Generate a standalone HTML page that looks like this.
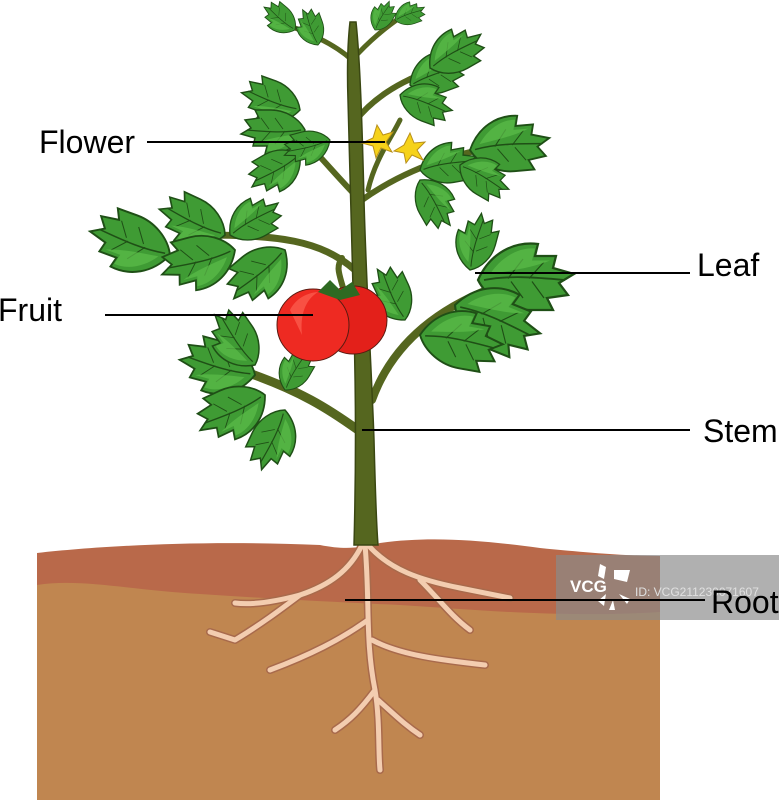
<!DOCTYPE html>
<html><head><meta charset="utf-8"><style>
html,body{margin:0;padding:0;background:#fff;width:779px;height:800px;overflow:hidden}
text{font-family:"Liberation Sans",sans-serif}
</style></head><body>
<svg width="779" height="800" viewBox="0 0 779 800" xmlns="http://www.w3.org/2000/svg">
<defs>
<g id="lf">
<path d="M0,0 C8,-18 24,-26 40,-24 L38,-16 L52,-16 L50,-8 L64,-4 L54,2 L60,10 L46,12 L50,20 L34,20 C20,20 6,12 0,0 Z" fill="#3f9b34" stroke="#1f4f16" stroke-width="1.5"/>
<path d="M4,0 C20,-3 36,-2 58,0" stroke="#1f4f16" stroke-width="1.2" fill="none"/>
<path d="M20,-1 L30,-14 M34,-1 L44,-12 M22,1 L30,12 M36,1 L44,12" stroke="#1f4f16" stroke-width=".8" fill="none"/>
<path d="M8,-4 C16,-16 28,-22 38,-21 L36,-13 L48,-13 C36,-8 20,-6 8,-4 Z" fill="#5cbd4a" opacity=".7"/>
</g>
</defs>

<!-- soil -->
<path d="M37,553 C100,546 200,540 320,545 C345,550 360,548 380,543 C430,536 480,540 540,548 C590,553 630,556 660,556 L660,800 L37,800 Z" fill="#b9694a"/>
<path d="M37,585 C80,578 130,590 200,594 C260,598 330,602 400,605 C480,610 560,618 660,612 L660,800 L37,800 Z" fill="#c08650"/>

<!-- roots -->
<g fill="none" stroke-linecap="round" stroke-linejoin="round">
<g stroke="#a86a4c" stroke-width="8">
<path d="M362,545 C350,570 330,585 300,595 C270,603 250,605 235,603"/>
<path d="M300,595 C280,610 260,625 235,640 L210,632"/>
<path d="M368,545 C390,570 420,580 460,588 L510,598"/>
<path d="M420,580 C440,600 450,615 470,630"/>
<path d="M365,545 C370,600 365,640 375,690 C380,720 378,750 380,770"/>
<path d="M368,620 C340,640 310,655 270,670"/>
<path d="M372,640 C400,655 440,660 485,665"/>
<path d="M375,690 C360,710 350,720 335,730"/>
<path d="M378,700 C395,715 405,725 420,735"/>
</g>
<g stroke="#f3cdb0" stroke-width="5">
<path d="M362,545 C350,570 330,585 300,595 C270,603 250,605 235,603"/>
<path d="M300,595 C280,610 260,625 235,640 L210,632"/>
<path d="M368,545 C390,570 420,580 460,588 L510,598"/>
<path d="M420,580 C440,600 450,615 470,630"/>
<path d="M365,545 C370,600 365,640 375,690 C380,720 378,750 380,770"/>
<path d="M368,620 C340,640 310,655 270,670"/>
<path d="M372,640 C400,655 440,660 485,665"/>
<path d="M375,690 C360,710 350,720 335,730"/>
<path d="M378,700 C395,715 405,725 420,735"/>
</g>
</g>

<!-- branches -->
<g fill="none" stroke="#55661f" stroke-linecap="round">
<path d="M358,430 C330,410 300,390 240,370" stroke-width="9"/>
<path d="M355,270 C320,240 280,235 200,235" stroke-width="7"/>
<path d="M372,400 C390,350 430,310 500,285" stroke-width="8"/>
<path d="M360,200 C330,170 300,130 260,100" stroke-width="6"/>
<path d="M362,200 C390,180 430,160 480,150" stroke-width="6"/>
<path d="M356,120 C380,90 420,70 470,60" stroke-width="6"/>
<path d="M352,60 C330,40 300,30 270,18" stroke-width="5"/>
<path d="M352,60 C370,40 385,28 405,14" stroke-width="5"/>
<path d="M368,190 C375,160 390,140 400,120" stroke-width="5"/>
<path d="M345,295 C340,275 335,268 342,258" stroke-width="6"/>
</g>
<!-- main stem -->
<path d="M354,545 C356,470 356,400 354,330 C352,250 350,160 348,100 C347,70 348,40 350,22 L356,22 C360,60 362,120 364,200 C366,280 372,380 374,440 C375,480 376,520 378,545 Z" fill="#55661f" stroke="#3a4712" stroke-width="1.5"/>

<!-- leaves -->
<g>
<use href="#lf" transform="translate(300,110) rotate(200) scale(.95)"/>
<use href="#lf" transform="translate(305,130) rotate(180) scale(1)"/>
<use href="#lf" transform="translate(300,155) rotate(150) scale(.9)"/>
<use href="#lf" transform="translate(330,140) rotate(165) scale(.75)"/>
<use href="#lf" transform="translate(410,85) rotate(-20) scale(.9)"/>
<use href="#lf" transform="translate(400,95) rotate(20) scale(.85)"/>
<use href="#lf" transform="translate(430,68) rotate(-30) scale(.95)"/>
<use href="#lf" transform="translate(420,170) rotate(-10) scale(.9)"/>
<use href="#lf" transform="translate(470,150) rotate(-5) scale(1.25)"/>
<use href="#lf" transform="translate(420,180) rotate(60) scale(.85)"/>
<use href="#lf" transform="translate(460,165) rotate(30) scale(.85)"/>
<use href="#lf" transform="translate(225,235) rotate(205) scale(1.1)"/>
<use href="#lf" transform="translate(170,255) rotate(200) scale(1.3)"/>
<use href="#lf" transform="translate(235,250) rotate(165) scale(1.2)"/>
<use href="#lf" transform="translate(285,250) rotate(140) scale(1.1)"/>
<use href="#lf" transform="translate(230,235) rotate(-30) scale(.9)"/>
<use href="#lf" transform="translate(470,270) rotate(-75) scale(.9)"/>
<use href="#lf" transform="translate(478,280) rotate(0) scale(1.5)"/>
<use href="#lf" transform="translate(455,305) rotate(22) scale(1.4)"/>
<use href="#lf" transform="translate(420,335) rotate(10) scale(1.3)"/>
<use href="#lf" transform="translate(405,320) rotate(-115) scale(.9)"/>
<use href="#lf" transform="translate(255,375) rotate(195) scale(1.2)"/>
<use href="#lf" transform="translate(255,365) rotate(235) scale(1)"/>
<use href="#lf" transform="translate(265,395) rotate(155) scale(1.15)"/>
<use href="#lf" transform="translate(285,390) rotate(-60) scale(.7)"/>
<use href="#lf" transform="translate(285,410) rotate(115) scale(1)"/>
<use href="#lf" transform="translate(295,30) rotate(220) scale(.6)"/>
<use href="#lf" transform="translate(318,45) rotate(250) scale(.6)"/>
<use href="#lf" transform="translate(375,30) rotate(-60) scale(.5)"/>
<use href="#lf" transform="translate(395,20) rotate(-20) scale(.5)"/>
</g>

<!-- tomatoes -->
<circle cx="353" cy="320" r="34" fill="#e3201a" stroke="#5a1a10" stroke-width="1"/>
<circle cx="313" cy="325" r="36" fill="#ee2a22" stroke="#5a1a10" stroke-width="1"/>
<path d="M290,310 C295,300 305,293 318,292 C305,300 300,315 302,335 Z" fill="#ff6a5a" opacity=".6"/>
<path d="M318,292 L330,280 L340,290 L352,282 L360,295 L340,300 Z" fill="#2e6a22"/>

<!-- flowers -->
<g fill="#f6d21a" stroke="#b8901a" stroke-width="1">
<path d="M377,125 L383,135 L393,132 L386,142 L392,152 L381,148 L376,158 L373,146 L362,143 L373,138 Z"/>
<path d="M410,133 L414,143 L425,142 L417,150 L423,160 L412,155 L406,163 L404,153 L394,151 L404,145 Z"/>
</g>

<!-- watermark -->
<rect x="556" y="555" width="223" height="65" fill="#8a8a8a" opacity=".68"/>
<text x="570" y="592" font-size="17" font-weight="bold" fill="#fff">VCG</text>
<g fill="#fff"><path d="M600,564 l6,3 -2,12 -6,-3 z"/><path d="M614,570 l16,0 -3,12 -13,-3 z"/><path d="M606,594 l-8,7 6,5 z"/><path d="M613,600 l2,10 -6,0 z"/><path d="M619,594 l11,5 -3,5 z"/></g>
<text x="635" y="596" font-size="12" fill="#e0e0e0">ID: VCG211230071607</text>

<!-- labels -->
<g stroke="#000" stroke-width="2">
<line x1="147" y1="142" x2="385" y2="142"/>
<line x1="475" y1="273" x2="690" y2="273"/>
<line x1="105" y1="315" x2="313" y2="315"/>
<line x1="362" y1="430" x2="690" y2="430"/>
<line x1="345" y1="600" x2="705" y2="600"/>
</g>
<g font-size="32" fill="#000">
<text x="39" y="153">Flower</text>
<text x="697" y="276">Leaf</text>
<text x="-2" y="321">Fruit</text>
<text x="703" y="442">Stem</text>
<text x="711" y="613">Root</text>
</g>
</svg>
</body></html>
